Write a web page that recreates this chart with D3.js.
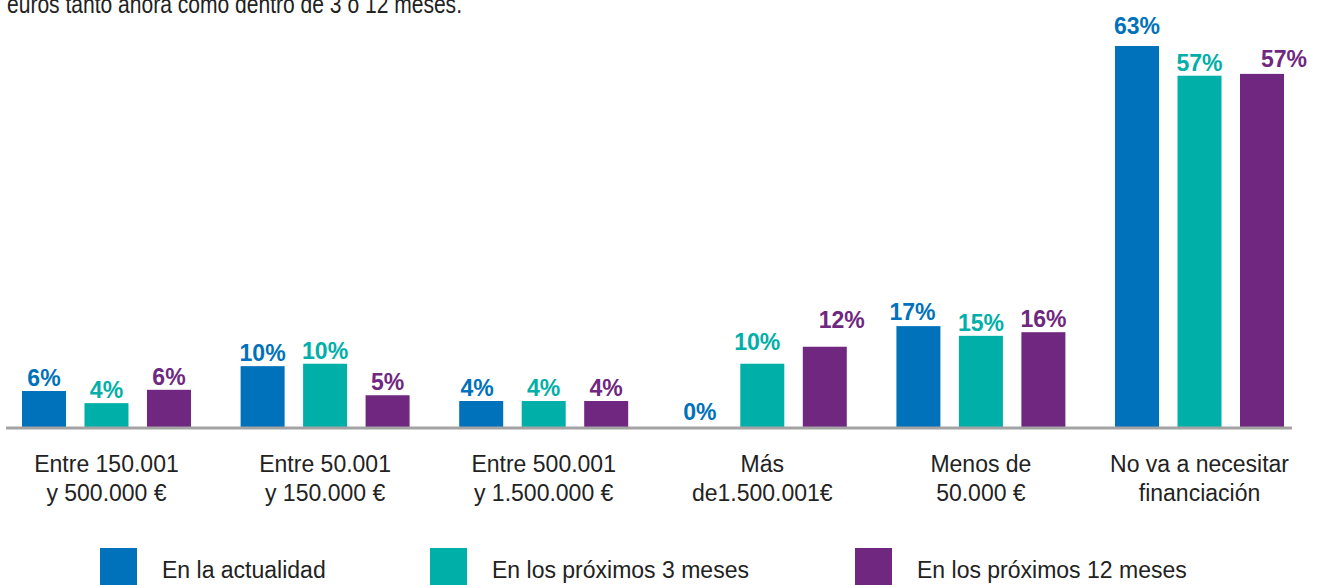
<!DOCTYPE html>
<html>
<head>
<meta charset="utf-8">
<script src="https://cdn.jsdelivr.net/npm/d3@7"></script>
<style>
  html, body { margin: 0; padding: 0; background: #fff; }
  svg { display: block; }
  text { font-family: "Liberation Sans", Arial, sans-serif; }
</style>
</head>
<body>
<svg id="chart" width="1320" height="585"></svg>
<script>
// ---------- DATA ----------
const categories = [
  ["Entre 150.001", "y 500.000 €"],
  ["Entre 50.001", "y 150.000 €"],
  ["Entre 500.001", "y 1.500.000 €"],
  ["Más", "de1.500.001€"],
  ["Menos de", "50.000 €"],
  ["No va a necesitar", "financiación"]
];
const seriesNames = ["En la actualidad", "En los próximos 3 meses", "En los próximos 12 meses"];
// bar heights as drawn (percent)
const actualBars = [6.1, 10.2, 4.45, 0, 16.8, 63];
const next3Bars  = [4.1, 10.6, 4.45, 10.6, 15.2, 58.1];
const next12Bars = [6.3, 5.4, 4.45, 13.4, 15.8, 58.4];
// printed value labels (percent)
const actualLabels = [6, 10, 4, 0, 17, 63];
const next3Labels  = [4, 10, 4, 10, 15, 57];
const next12Labels = [6, 5, 4, 12, 16, 57];
const titleText = "euros tanto ahora como dentro de 3 o 12 meses.";

// ---------- DRAWING ----------
const colors = ["#0071BB", "#00AFA8", "#6F2780"];
const bars = [actualBars, next3Bars, next12Bars];
const labels = [actualLabels, next3Labels, next12Labels];

const svg = d3.select("#chart");
const baseY = 428;

const x0 = d3.scaleBand().domain(d3.range(categories.length))
  .range([22, 1284]).paddingInner(0.227).paddingOuter(0);
const x1 = d3.scaleBand().domain(d3.range(seriesNames.length))
  .range([0, x0.bandwidth()]).paddingInner(0.296).paddingOuter(0);
const y = d3.scaleLinear().domain([0, 63]).range([baseY, 46]);

// title (partially cut off at the top, as in the original)
svg.append("text")
  .attr("x", 7).attr("y", 13)
  .attr("font-family", "'Liberation Sans Narrow', 'Arial Narrow', 'Liberation Sans', sans-serif")
  .attr("font-size", 25)
  .attr("fill", "#222")
  .attr("textLength", 455).attr("lengthAdjust", "spacingAndGlyphs")
  .text(titleText);

// bars
const data = [];
categories.forEach((c, i) => {
  seriesNames.forEach((s, j) => {
    data.push({ i, j, v: bars[j][i], lab: labels[j][i] });
  });
});

const g = svg.append("g");
g.selectAll("rect").data(data.filter(d => d.v > 0)).join("rect")
  .attr("x", d => x0(d.i) + x1(d.j))
  .attr("y", d => y(d.v))
  .attr("width", x1.bandwidth())
  .attr("height", d => baseY - y(d.v))
  .attr("fill", d => colors[d.j]);

// axis line
const xAxis = d3.axisBottom(x0).tickSize(0).tickFormat("");
const ax = svg.append("g").attr("transform", `translate(0,${baseY})`).call(xAxis);
ax.select(".domain").attr("d", "M6,0H1292").attr("stroke", "#A3A3A3").attr("stroke-width", 3);

// value label nudges (dx, dy) for a few labels placed off-center in the original
const nudge = { "3-2": [17, -14], "5-2": [22, -2], "5-0": [0, -7], "3-1": [-5, -9], "4-0": [-6, -1], "2-0": [-4, 0] };
g.selectAll("text.val").data(data).join("text")
  .attr("class", "val")
  .attr("x", d => x0(d.i) + x1(d.j) + x1.bandwidth() / 2 + ((nudge[d.i + "-" + d.j] || [0, 0])[0]))
  .attr("y", d => (d.v > 0 ? y(d.v) - 5 : baseY - 8) + ((nudge[d.i + "-" + d.j] || [0, 0])[1]))
  .attr("text-anchor", "middle")
  .attr("font-size", 23)
  .attr("font-weight", "bold")
  .attr("fill", d => colors[d.j])
  .text(d => d.lab + "%");

// category labels
const cl = svg.append("g");
categories.forEach((lines, i) => {
  const cx = x0(i) + x0.bandwidth() / 2;
  const t = cl.append("text")
    .attr("x", cx)
    .attr("text-anchor", "middle")
    .attr("font-size", 23)
    .attr("fill", "#222");
  lines.forEach((ln, k) => {
    t.append("tspan").attr("x", cx).attr("y", 472 + k * 29).text(ln);
  });
});

// legend
const legendX = [100, 430, 855];
const lg = svg.append("g");
seriesNames.forEach((s, j) => {
  lg.append("rect").attr("x", legendX[j]).attr("y", 548).attr("width", 37).attr("height", 40).attr("fill", colors[j]);
  lg.append("text").attr("x", legendX[j] + 62).attr("y", 578)
    .attr("font-size", 23).attr("fill", "#222").text(s);
});
</script>
</body>
</html>
